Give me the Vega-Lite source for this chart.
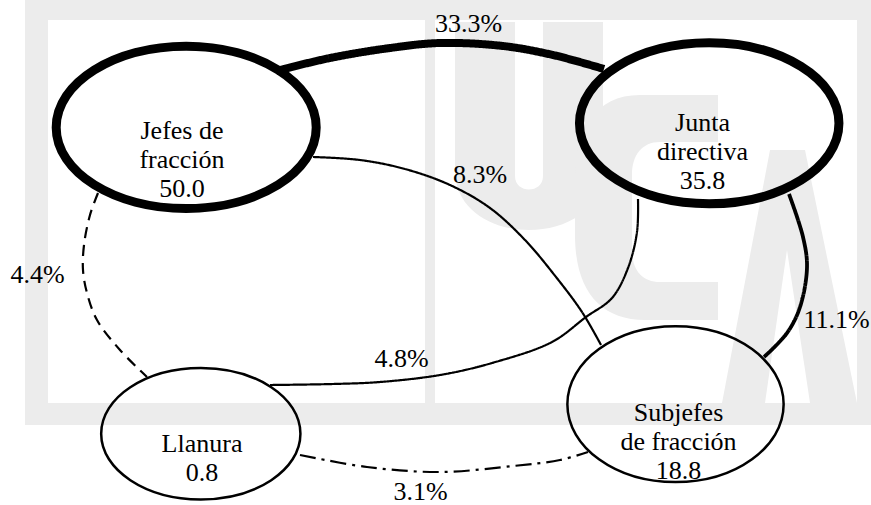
{
  "$schema": "https://vega.github.io/schema/vega-lite/v6.json",
  "width": 871,
  "height": 505,
  "padding": 0,
  "autosize": {"type": "none"},
  "background": "#ffffff",
  "config": {"view": {"stroke": null}},
  "resolve": {"scale": {"shape": "independent", "strokeWidth": "independent", "strokeDash": "independent"}},
  "datasets": {
    "marco": [{"x": 25, "x2": 871, "y": 0, "y2": 425}],
    "paneles": [
      {"x": 48, "x2": 425, "y": 20, "y2": 403},
      {"x": 435, "x2": 857, "y": 20, "y2": 403}
    ],
    "letras": [
      {"letra": "U", "x": 529, "y": 200},
      {"letra": "C", "x": 645, "y": 210},
      {"letra": "A", "x": 790, "y": 280}
    ],
    "enlaces": [
      {"enlace": "E1", "pct": 33.3, "trazo": "continuo", "i": 0, "x": 276, "y": 71},
      {"enlace": "E1", "pct": 33.3, "trazo": "continuo", "i": 1, "x": 330, "y": 58},
      {"enlace": "E1", "pct": 33.3, "trazo": "continuo", "i": 2, "x": 390, "y": 48},
      {"enlace": "E1", "pct": 33.3, "trazo": "continuo", "i": 3, "x": 440, "y": 43},
      {"enlace": "E1", "pct": 33.3, "trazo": "continuo", "i": 4, "x": 503, "y": 46},
      {"enlace": "E1", "pct": 33.3, "trazo": "continuo", "i": 5, "x": 553, "y": 55},
      {"enlace": "E1", "pct": 33.3, "trazo": "continuo", "i": 6, "x": 604, "y": 69},
      {"enlace": "E2", "pct": 8.3, "trazo": "continuo", "i": 0, "x": 313, "y": 157},
      {"enlace": "E2", "pct": 8.3, "trazo": "continuo", "i": 1, "x": 360, "y": 160},
      {"enlace": "E2", "pct": 8.3, "trazo": "continuo", "i": 2, "x": 405, "y": 169},
      {"enlace": "E2", "pct": 8.3, "trazo": "continuo", "i": 3, "x": 450, "y": 185},
      {"enlace": "E2", "pct": 8.3, "trazo": "continuo", "i": 4, "x": 490, "y": 208},
      {"enlace": "E2", "pct": 8.3, "trazo": "continuo", "i": 5, "x": 525, "y": 240},
      {"enlace": "E2", "pct": 8.3, "trazo": "continuo", "i": 6, "x": 556, "y": 277},
      {"enlace": "E2", "pct": 8.3, "trazo": "continuo", "i": 7, "x": 582, "y": 312},
      {"enlace": "E2", "pct": 8.3, "trazo": "continuo", "i": 8, "x": 601, "y": 345},
      {"enlace": "E3", "pct": 4.8, "trazo": "continuo", "i": 0, "x": 638, "y": 199},
      {"enlace": "E3", "pct": 4.8, "trazo": "continuo", "i": 1, "x": 637, "y": 232},
      {"enlace": "E3", "pct": 4.8, "trazo": "continuo", "i": 2, "x": 628, "y": 268},
      {"enlace": "E3", "pct": 4.8, "trazo": "continuo", "i": 3, "x": 612, "y": 298},
      {"enlace": "E3", "pct": 4.8, "trazo": "continuo", "i": 4, "x": 586, "y": 317},
      {"enlace": "E3", "pct": 4.8, "trazo": "continuo", "i": 5, "x": 552, "y": 342},
      {"enlace": "E3", "pct": 4.8, "trazo": "continuo", "i": 6, "x": 492, "y": 363},
      {"enlace": "E3", "pct": 4.8, "trazo": "continuo", "i": 7, "x": 440, "y": 375},
      {"enlace": "E3", "pct": 4.8, "trazo": "continuo", "i": 8, "x": 380, "y": 382},
      {"enlace": "E3", "pct": 4.8, "trazo": "continuo", "i": 9, "x": 333, "y": 384},
      {"enlace": "E3", "pct": 4.8, "trazo": "continuo", "i": 10, "x": 270, "y": 385},
      {"enlace": "E4", "pct": 11.1, "trazo": "continuo", "i": 0, "x": 789, "y": 194},
      {"enlace": "E4", "pct": 11.1, "trazo": "continuo", "i": 1, "x": 803, "y": 237},
      {"enlace": "E4", "pct": 11.1, "trazo": "continuo", "i": 2, "x": 807, "y": 267},
      {"enlace": "E4", "pct": 11.1, "trazo": "continuo", "i": 3, "x": 800, "y": 307},
      {"enlace": "E4", "pct": 11.1, "trazo": "continuo", "i": 4, "x": 787, "y": 333},
      {"enlace": "E4", "pct": 11.1, "trazo": "continuo", "i": 5, "x": 764, "y": 357},
      {"enlace": "E5", "pct": 4.4, "trazo": "discontinuo", "i": 0, "x": 98, "y": 193},
      {"enlace": "E5", "pct": 4.4, "trazo": "discontinuo", "i": 1, "x": 90, "y": 215},
      {"enlace": "E5", "pct": 4.4, "trazo": "discontinuo", "i": 2, "x": 84, "y": 245},
      {"enlace": "E5", "pct": 4.4, "trazo": "discontinuo", "i": 3, "x": 83, "y": 270},
      {"enlace": "E5", "pct": 4.4, "trazo": "discontinuo", "i": 4, "x": 87, "y": 293},
      {"enlace": "E5", "pct": 4.4, "trazo": "discontinuo", "i": 5, "x": 97, "y": 320},
      {"enlace": "E5", "pct": 4.4, "trazo": "discontinuo", "i": 6, "x": 120, "y": 350},
      {"enlace": "E5", "pct": 4.4, "trazo": "discontinuo", "i": 7, "x": 147, "y": 377},
      {"enlace": "E6", "pct": 3.1, "trazo": "mixto", "i": 0, "x": 300, "y": 455},
      {"enlace": "E6", "pct": 3.1, "trazo": "mixto", "i": 1, "x": 367, "y": 467},
      {"enlace": "E6", "pct": 3.1, "trazo": "mixto", "i": 2, "x": 440, "y": 472},
      {"enlace": "E6", "pct": 3.1, "trazo": "mixto", "i": 3, "x": 513, "y": 466},
      {"enlace": "E6", "pct": 3.1, "trazo": "mixto", "i": 4, "x": 560, "y": 460},
      {"enlace": "E6", "pct": 3.1, "trazo": "mixto", "i": 5, "x": 588, "y": 452}
    ],
    "nodos": [
      {"nodo": "Jefes de fracción", "valor": 50.0, "x": 186.2, "y": 127.4, "tx": 182, "ty": 130.5, "lineas": ["Jefes de", "fracción", "50.0"]},
      {"nodo": "Junta directiva", "valor": 35.8, "x": 709.2, "y": 123.3, "tx": 702.5, "ty": 122.5, "lineas": ["Junta", "directiva", "35.8"]},
      {"nodo": "Llanura", "valor": 0.8, "x": 200.8, "y": 433.7, "tx": 202, "ty": 444, "lineas": ["Llanura", "0.8"]},
      {"nodo": "Subjefes de fracción", "valor": 18.8, "x": 675.5, "y": 404.2, "tx": 678.5, "ty": 412.5, "lineas": ["Subjefes", "de fracción", "18.8"]}
    ],
    "etiquetas": [
      {"texto": "33.3%", "x": 468.5, "y": 32},
      {"texto": "8.3%", "x": 480, "y": 183},
      {"texto": "4.4%", "x": 37.5, "y": 283},
      {"texto": "4.8%", "x": 401.5, "y": 367},
      {"texto": "11.1%", "x": 836.5, "y": 328},
      {"texto": "3.1%", "x": 420.5, "y": 500}
    ]
  },
  "layer": [
    {
      "data": {"name": "marco"},
      "mark": {"type": "rect", "color": "#ececec"},
      "encoding": {
        "x": {"field": "x", "type": "quantitative", "scale": {"domain": [0, 871], "nice": false, "zero": false}, "axis": null},
        "x2": {"field": "x2"},
        "y": {"field": "y", "type": "quantitative", "scale": {"domain": [0, 505], "reverse": true, "nice": false, "zero": false}, "axis": null},
        "y2": {"field": "y2"}
      }
    },
    {
      "data": {"name": "paneles"},
      "mark": {"type": "rect", "color": "#ffffff"},
      "encoding": {
        "x": {"field": "x", "type": "quantitative", "axis": null},
        "x2": {"field": "x2"},
        "y": {"field": "y", "type": "quantitative", "axis": null},
        "y2": {"field": "y2"}
      }
    },
    {
      "data": {"name": "letras"},
      "mark": {"type": "point", "filled": true, "color": "#ececec", "opacity": 1, "size": 40000, "strokeWidth": 0},
      "encoding": {
        "x": {"field": "x", "type": "quantitative", "axis": null},
        "y": {"field": "y", "type": "quantitative", "axis": null},
        "shape": {
          "field": "letra", "type": "nominal", "legend": null,
          "scale": {
            "domain": ["U", "C", "A"],
            "range": [
              "M-0.74,-1.78L-0.14,-1.78L-0.14,-0.24C-0.14,-0.06 0.14,-0.06 0.14,-0.24L0.14,-1.78L0.74,-1.78L0.74,-0.30C0.74,0.50 -0.74,0.50 -0.74,-0.30Z",
              "M0.73,-1.15L-0.05,-1.15C-0.50,-1.15 -0.70,-0.80 -0.70,-0.30L-0.70,0.25C-0.70,0.80 -0.45,1.10 0,1.10L0.73,1.10L0.73,0.72L0.15,0.72C-0.03,0.72 -0.13,0.60 -0.13,0.40L-0.13,-0.35C-0.13,-0.55 -0.03,-0.68 0.15,-0.68L0.73,-0.68Z",
              "M-0.68,1.23L-0.20,-1.30L0.15,-1.30L0.67,1.23ZM-0.25,1.23L0.20,1.23L-0.03,-0.30Z"
            ]
          }
        }
      }
    },
    {
      "data": {"name": "enlaces"},
      "mark": {"type": "line", "interpolate": "catmull-rom", "color": "#000000"},
      "encoding": {
        "x": {"field": "x", "type": "quantitative", "axis": null},
        "y": {"field": "y", "type": "quantitative", "axis": null},
        "detail": {"field": "enlace", "type": "nominal"},
        "order": {"field": "i", "type": "quantitative"},
        "strokeWidth": {"field": "pct", "type": "quantitative", "legend": null, "scale": {"type": "threshold", "domain": [10, 20], "range": [2.2, 3.8, 8]}},
        "strokeDash": {"field": "trazo", "type": "nominal", "legend": null, "scale": {"domain": ["continuo", "discontinuo", "mixto"], "range": [[1, 0], [11, 7], [16, 6, 3, 6]]}}
      }
    },
    {
      "data": {"name": "nodos"},
      "mark": {"type": "point", "filled": false, "color": "#000000", "opacity": 1, "size": 72900},
      "encoding": {
        "x": {"field": "x", "type": "quantitative", "axis": null},
        "y": {"field": "y", "type": "quantitative", "axis": null},
        "shape": {
          "field": "nodo", "type": "nominal", "legend": null,
          "scale": {
            "domain": ["Jefes de fracción", "Junta directiva", "Llanura", "Subjefes de fracción"],
            "range": [
              "M0.963,0C0.963,0.332 0.532,0.601 0,0.601C-0.532,0.601 -0.963,0.332 -0.963,0C-0.963,-0.332 -0.532,-0.601 0,-0.601C0.532,-0.601 0.963,-0.332 0.963,0Z",
              "M0.961,0C0.961,0.329 0.531,0.596 0,0.596C-0.531,0.596 -0.961,0.329 -0.961,0C-0.961,-0.329 -0.531,-0.596 0,-0.596C0.531,-0.596 0.961,-0.329 0.961,0Z",
              "M0.738,0C0.738,0.269 0.408,0.487 0,0.487C-0.408,0.487 -0.738,0.269 -0.738,0C-0.738,-0.269 -0.408,-0.487 0,-0.487C0.408,-0.487 0.738,-0.269 0.738,0Z",
              "M0.801,0C0.801,0.319 0.443,0.577 0,0.577C-0.443,0.577 -0.801,0.319 -0.801,0C-0.801,-0.319 -0.443,-0.577 0,-0.577C0.443,-0.577 0.801,-0.319 0.801,0Z"
            ]
          }
        },
        "strokeWidth": {"field": "valor", "type": "quantitative", "legend": null, "scale": {"type": "threshold", "domain": [30], "range": [2.5, 9]}}
      }
    },
    {
      "data": {"name": "nodos"},
      "mark": {"type": "text", "font": "Liberation Serif", "fontSize": 26, "lineHeight": 29.3, "align": "center", "baseline": "middle", "color": "#000000"},
      "encoding": {
        "x": {"field": "tx", "type": "quantitative", "axis": null},
        "y": {"field": "ty", "type": "quantitative", "axis": null},
        "text": {"field": "lineas", "type": "nominal"}
      }
    },
    {
      "data": {"name": "etiquetas"},
      "mark": {"type": "text", "font": "Liberation Serif", "fontSize": 26, "align": "center", "baseline": "alphabetic", "color": "#000000"},
      "encoding": {
        "x": {"field": "x", "type": "quantitative", "axis": null},
        "y": {"field": "y", "type": "quantitative", "axis": null},
        "text": {"field": "texto", "type": "nominal"}
      }
    }
  ]
}
